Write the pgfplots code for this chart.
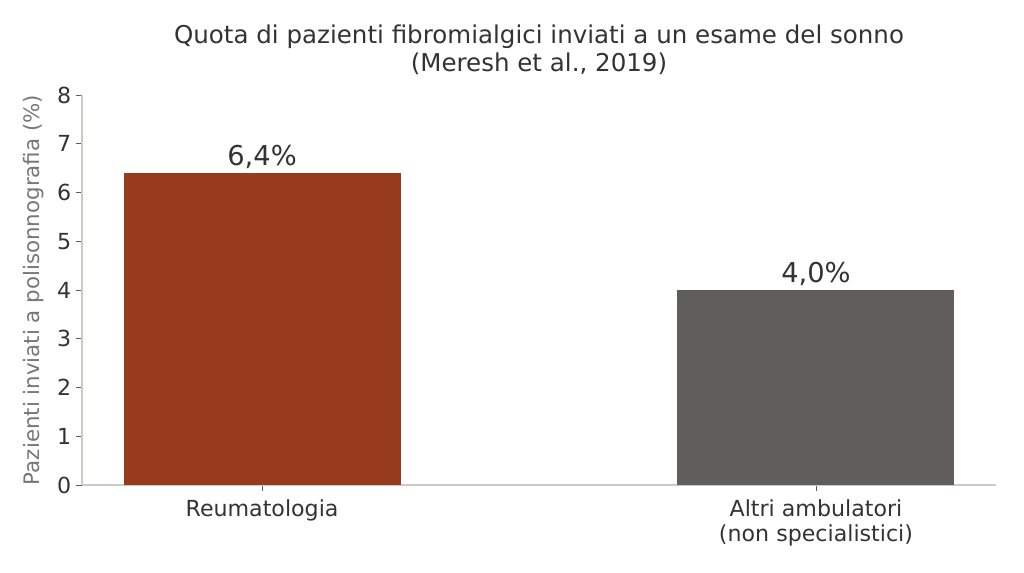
\documentclass[border=0pt]{standalone}
\usepackage{fontspec}
\setmainfont{DejaVu Sans}
\usepackage{pgfplots}
\pgfplotsset{compat=1.18}
\definecolor{barA}{HTML}{983A1E}
\definecolor{barB}{HTML}{5F5E5A}
\definecolor{txt}{HTML}{333333}
\definecolor{ylab}{HTML}{777777}
\definecolor{spine}{HTML}{CCCAC2}
\begin{document}
\begin{tikzpicture}[x=1pt,y=1pt]
\useasboundingbox (-61.5,-66) rectangle (706.5,363.75);
\begin{axis}[
  at={(0,0)}, anchor=south west, scale only axis,
  width=685.5pt, height=292.5pt,
  xmin=-0.325, xmax=1.325, ymin=0, ymax=8,
  axis x line*=bottom, axis y line*=left,
  axis line style={spine, line width=0.8pt},
  ytick={0,1,...,8},
  xtick={0,1},
  xticklabels={Reumatologia,{Altri ambulatori\\(non specialistici)}},
  xticklabel style={align=center, font=\fontsize{16.6}{18.8}\selectfont, text=txt, yshift=-3pt},
  yticklabel style={font=\fontsize{16.6}{18.8}\selectfont, text=txt},
  /pgf/number format/assume math mode=true,
  tick align=outside, major tick length=4.5pt,
  tick style={color=txt!80, line width=0.6pt},
  ybar, bar width=0.5, bar shift=0pt,
  ylabel={Pazienti inviati a polisonnografia (\%)},
  ylabel style={font=\fontsize{16}{18}\selectfont, text=ylab, yshift=3pt},
  title={Quota di pazienti fibromialgici inviati a un esame del sonno\\(Meresh et al., 2019)},
  title style={align=center, font=\fontsize{18.4}{20.3}\selectfont, text=txt, yshift=6pt},
  nodes near coords={\pgfplotspointmeta},
  point meta=explicit symbolic,
  every node near coord/.append style={font=\fontsize{20.5}{22}\selectfont, text=txt},
]
\addplot[draw=none, fill=barA] coordinates {(0,6.4) [6,4\%]};
\addplot[draw=none, fill=barB] coordinates {(1,4.0) [4,0\%]};
\end{axis}
\end{tikzpicture}
\end{document}
